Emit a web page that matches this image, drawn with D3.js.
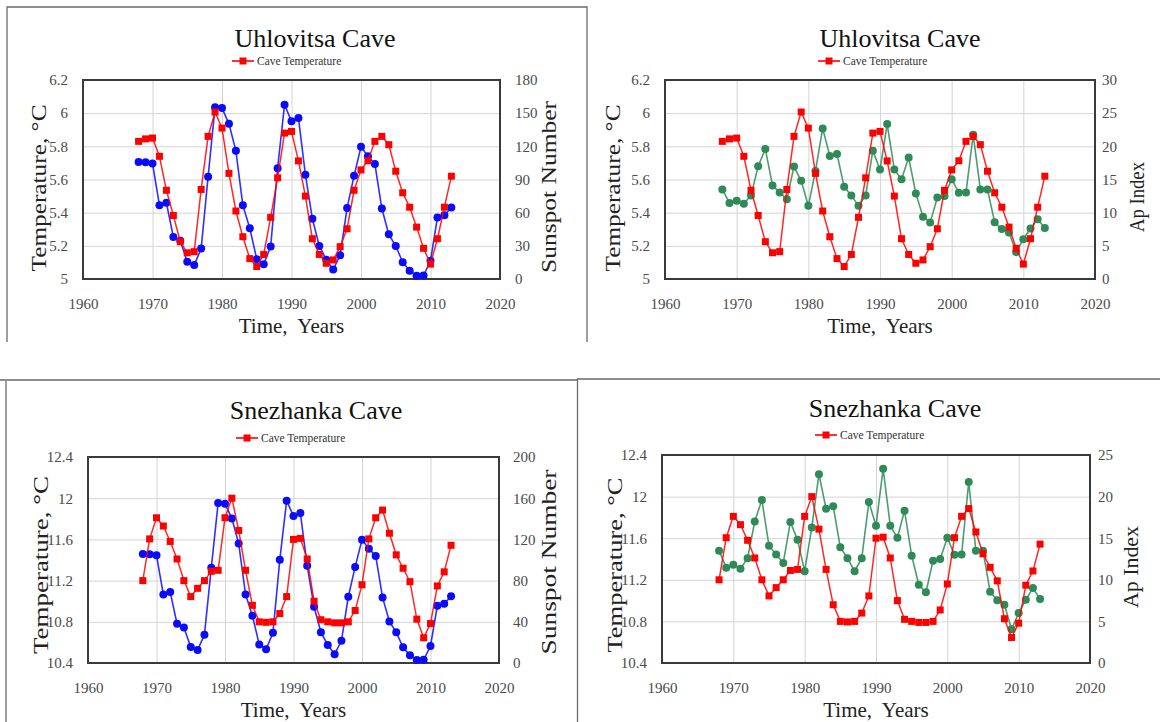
<!DOCTYPE html>
<html>
<head>
<meta charset="utf-8">
<script src="https://cdn.jsdelivr.net/npm/d3@7"></script>
<style>
  body { margin: 0; background: #fff; }
  text { font-family: "Liberation Serif", "Times New Roman", serif; }
</style>
</head>
<body>
<svg id="chart" width="1160" height="722"></svg>
<script>
// data
const years = [1968, 1969, 1970, 1971, 1972, 1973, 1974, 1975, 1976, 1977,
    1978, 1979, 1980, 1981, 1982, 1983, 1984, 1985, 1986, 1987,
    1988, 1989, 1990, 1991, 1992, 1993, 1994, 1995, 1996, 1997,
    1998, 1999, 2000, 2001, 2002, 2003, 2004, 2005, 2006, 2007,
    2008, 2009, 2010, 2011, 2012, 2013];

const uhlovitsaTemp = [5.83, 5.845, 5.85, 5.74, 5.535, 5.383, 5.225, 5.158, 5.165, 5.54,
    5.86, 6.007, 5.91, 5.637, 5.41, 5.255, 5.123, 5.075, 5.148, 5.372,
    5.61, 5.88, 5.89, 5.712, 5.5, 5.243, 5.148, 5.095, 5.115, 5.195,
    5.303, 5.535, 5.658, 5.713, 5.83, 5.86, 5.81, 5.65, 5.52, 5.433,
    5.313, 5.185, 5.09, 5.243, 5.433, 5.62];

const snezhankaTemp = [11.2, 11.605, 11.81, 11.73, 11.58, 11.41, 11.2, 11.045, 11.125, 11.2,
    11.29, 11.3, 11.81, 12.0, 11.687, 11.3, 10.96, 10.8, 10.795, 10.8,
    10.88, 11.045, 11.6, 11.61, 11.41, 11.0, 10.82, 10.8, 10.79, 10.79,
    10.8, 10.91, 11.16, 11.605, 11.81, 11.885, 11.66, 11.45, 11.32, 11.19,
    10.826, 10.645, 10.783, 11.148, 11.285, 11.543];

const sunspotNumber = [105.9, 105.5, 104.5, 66.6, 68.9, 38.0, 34.5, 15.5, 12.6, 27.5,
    92.5, 155.4, 154.6, 140.4, 115.9, 66.6, 45.9, 17.9, 13.4, 29.4,
    100.2, 157.6, 142.6, 145.7, 94.3, 54.6, 29.9, 17.5, 8.6, 21.5,
    64.3, 93.3, 119.6, 111.0, 104.0, 63.7, 40.4, 29.8, 15.2, 7.5,
    2.9, 3.1, 16.5, 55.7, 57.6, 64.7];

const apIndex = [13.5, 11.46, 11.8, 11.33, 12.6, 17.0, 19.6, 14.1, 13.05, 12.03,
    16.95, 14.8, 11.03, 16.3, 22.7, 18.55, 18.85, 13.9, 12.6, 11.03,
    12.6, 19.35, 16.5, 23.35, 16.5, 15.05, 18.3, 12.9, 9.4, 8.5,
    12.3, 12.5, 15.05, 13.0, 13.05, 21.75, 13.5, 13.5, 8.55, 7.55,
    7.0, 4.05, 6.0, 7.6, 9.0, 7.7];

const yearTicks = [1960, 1970, 1980, 1990, 2000, 2010, 2020];
const uhlTempTicks = [5, 5.2, 5.4, 5.6, 5.8, 6, 6.2];
const sneTempTicks = [10.4, 10.8, 11.2, 11.6, 12, 12.4];
const uhlSunTicks = [0, 30, 60, 90, 120, 150, 180];
const sneSunTicks = [0, 40, 80, 120, 160, 200];
const uhlApTicks = [0, 5, 10, 15, 20, 25, 30];
const sneApTicks = [0, 5, 10, 15, 20, 25];

const tempColor = "#ff0000";
const sunColor = "#0a0aff";
const apColor = "#2e8b57";

const svg = d3.select("#chart");
svg.append("rect").attr("width", 1160).attr("height", 722).attr("fill", "#fff");

// panel frames
const frame = svg.append("g").attr("stroke", "#6a6a6a").attr("stroke-width", 1.3).attr("fill", "none");
frame.append("path").attr("d", "M7,342V7H587V342");
frame.append("path").attr("d", "M0,380H577M6,381V722");
frame.append("path").attr("d", "M577.5,722V379H1160");

function drawPanel(p) {
    const g = svg.append("g");
    const x = d3.scaleLinear().domain([1960, 2020]).range([p.left, p.right]);
    const yL = d3.scaleLinear().domain(d3.extent(p.tempTicks)).range([p.bottom, p.top]);
    const yR = d3.scaleLinear().domain(d3.extent(p.secTicks)).range([p.bottom, p.top]);
    const w = p.right - p.left, h = p.bottom - p.top;

    // grid
    g.append("g")
        .attr("transform", `translate(0,${p.bottom})`)
        .call(d3.axisBottom(x).tickValues(yearTicks).tickSize(-h).tickFormat(""))
        .call(a => a.select(".domain").remove())
        .call(a => a.selectAll("line").attr("stroke", "#d4d4d4"));
    g.append("g")
        .attr("transform", `translate(${p.left},0)`)
        .call(d3.axisLeft(yL).tickValues(p.tempTicks).tickSize(-w).tickFormat(""))
        .call(a => a.select(".domain").remove())
        .call(a => a.selectAll("line").attr("stroke", "#d4d4d4"));

    g.append("rect")
        .attr("x", p.left).attr("y", p.top).attr("width", w).attr("height", h)
        .attr("fill", "none").attr("stroke", "#3a3a3a").attr("stroke-width", 2);

    // tick labels
    const styleTicks = a => {
        a.select(".domain").remove();
        a.selectAll("line").remove();
        a.selectAll("text").attr("font-family", "Liberation Serif").attr("font-size", 15).attr("fill", "#4a4a4a");
    };
    g.append("g")
        .attr("transform", `translate(0,${p.bottom})`)
        .call(d3.axisBottom(x).tickValues(yearTicks).tickFormat(d3.format("d")).tickSize(0).tickPadding(19))
        .call(styleTicks);
    g.append("g")
        .attr("transform", `translate(${p.left},0)`)
        .call(d3.axisLeft(yL).tickValues(p.tempTicks).tickFormat(d3.format("~g")).tickSize(0).tickPadding(15))
        .call(styleTicks);
    g.append("g")
        .attr("transform", `translate(${p.right},0)`)
        .call(d3.axisRight(yR).tickValues(p.secTicks).tickFormat(d3.format("d")).tickSize(0).tickPadding(p.rPad))
        .call(styleTicks);

    // series
    const tempPts = years.map((yr, i) => [x(yr), yL(p.temp[i])]);
    const secPts = years.map((yr, i) => [x(yr), yR(p.sec[i])]);
    const line = d3.line();

    g.append("path").attr("d", line(secPts)).attr("fill", "none")
        .attr("stroke", p.secColor).attr("stroke-width", 1.6).attr("stroke-opacity", 0.85);
    g.append("g").selectAll("circle").data(secPts).join("circle")
        .attr("cx", d => d[0]).attr("cy", d => d[1]).attr("r", 4)
        .attr("fill", p.secColor);

    g.append("path").attr("d", line(tempPts)).attr("fill", "none")
        .attr("stroke", tempColor).attr("stroke-width", 1.5).attr("stroke-opacity", 0.85);
    g.append("g").selectAll("rect").data(tempPts).join("rect")
        .attr("x", d => d[0] - 3.5).attr("y", d => d[1] - 3.5)
        .attr("width", 7).attr("height", 7).attr("fill", tempColor);

    // title + legend
    g.append("text").attr("x", p.titleX).attr("y", p.titleY)
        .attr("text-anchor", "middle").attr("font-size", 26).attr("fill", "#111")
        .text(p.title);
    const lg = g.append("g").attr("transform", `translate(${p.legendX},${p.legendY})`);
    lg.append("line").attr("x1", 0).attr("x2", 22).attr("stroke", tempColor).attr("stroke-width", 1.6);
    lg.append("rect").attr("x", 7.5).attr("y", -3.5).attr("width", 7).attr("height", 7).attr("fill", tempColor);
    lg.append("text").attr("x", 25).attr("dy", "0.35em").attr("font-size", 11.5).attr("fill", "#333")
        .text("Cave Temperature");

    // axis titles
    g.append("text").attr("x", (p.left + p.right) / 2).attr("y", p.bottom + 54)
        .attr("text-anchor", "middle").attr("font-size", 21).attr("fill", "#222")
        .style("white-space", "pre")
        .text("Time,  Years");
    g.append("text")
        .attr("transform", `translate(${p.yLabelX},${p.labelY}) rotate(-90)`)
        .attr("text-anchor", "middle").attr("dy", "0.35em").attr("font-size", 22).attr("fill", "#222")
        .attr("textLength", p.yLabelLen).attr("lengthAdjust", "spacingAndGlyphs")
        .text("Temperature, °C");
    g.append("text")
        .attr("transform", `translate(${p.rLabelX},${p.rLabelY}) rotate(-90)`)
        .attr("text-anchor", "middle").attr("dy", "0.35em").attr("font-size", 22).attr("fill", "#222")
        .attr("textLength", p.rLabelLen).attr("lengthAdjust", "spacingAndGlyphs")
        .text(p.secLabel);
}

drawPanel({
    title: "Uhlovitsa Cave", temp: uhlovitsaTemp, tempTicks: uhlTempTicks,
    sec: sunspotNumber, secTicks: uhlSunTicks, secColor: sunColor, secLabel: "Sunspot Number",
    left: 83, right: 500, top: 80, bottom: 279, rPad: 15,
    titleX: 315, titleY: 47, legendX: 232, legendY: 61,
    yLabelX: 38, labelY: 188, yLabelLen: 167, rLabelX: 548, rLabelY: 187, rLabelLen: 172
});
drawPanel({
    title: "Uhlovitsa Cave", temp: uhlovitsaTemp, tempTicks: uhlTempTicks,
    sec: apIndex, secTicks: uhlApTicks, secColor: apColor, secLabel: "Ap Index",
    left: 665, right: 1095, top: 80, bottom: 279, rPad: 7,
    titleX: 900, titleY: 47, legendX: 818, legendY: 61,
    yLabelX: 612, labelY: 188, yLabelLen: 167, rLabelX: 1136, rLabelY: 197, rLabelLen: 70
});
drawPanel({
    title: "Snezhanka Cave", temp: snezhankaTemp, tempTicks: sneTempTicks,
    sec: sunspotNumber, secTicks: sneSunTicks, secColor: sunColor, secLabel: "Sunspot Number",
    left: 88, right: 499, top: 457, bottom: 663, rPad: 14,
    titleX: 316, titleY: 419, legendX: 236, legendY: 438,
    yLabelX: 40, labelY: 565, yLabelLen: 178, rLabelX: 548, rLabelY: 562, rLabelLen: 185
});
drawPanel({
    title: "Snezhanka Cave", temp: snezhankaTemp, tempTicks: sneTempTicks,
    sec: apIndex, secTicks: sneApTicks, secColor: apColor, secLabel: "Ap Index",
    left: 662, right: 1090, top: 455, bottom: 663, rPad: 8,
    titleX: 895, titleY: 417, legendX: 815, legendY: 435,
    yLabelX: 614, labelY: 565, yLabelLen: 175, rLabelX: 1130, rLabelY: 567, rLabelLen: 82
});
</script>
</body>
</html>
